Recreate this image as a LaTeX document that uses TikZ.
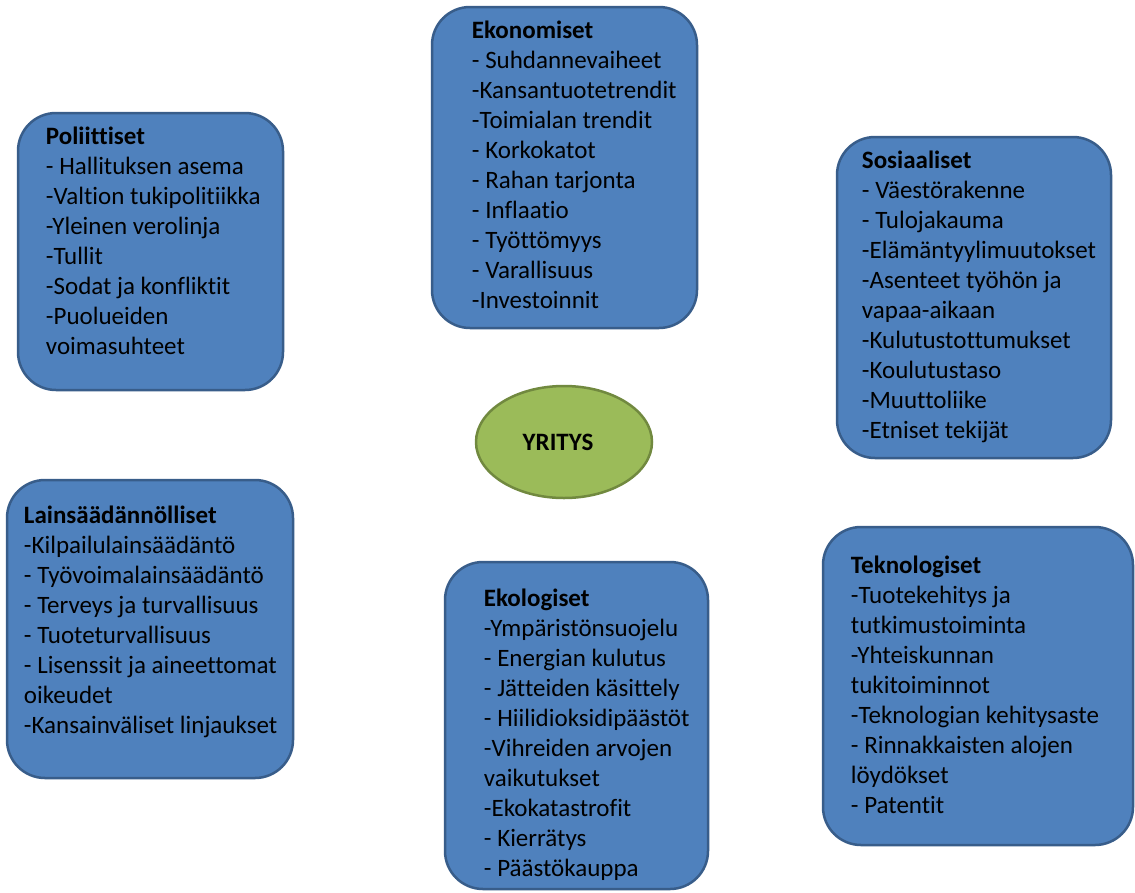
\documentclass[tikz,border=0pt]{standalone}
\usepackage{fontspec}
\setmainfont{Carlito}[Ligatures=NoCommon]
\usetikzlibrary{positioning,shapes.geometric}
\definecolor{laatikko}{HTML}{4F81BD}
\definecolor{laatikkoreuna}{HTML}{385D8A}
\definecolor{vihrea}{HTML}{9BBB59}
\definecolor{vihreareuna}{HTML}{71893F}
\tikzset{
  panel/.style={draw=laatikkoreuna, line width=2.5pt, fill=laatikko, rounded corners=38pt, inner sep=0pt},
  lista/.style={align=left, inner sep=0pt, font=\fontsize{25}{30}\selectfont},
  yritys/.style={ellipse, draw=vihreareuna, line width=2.5pt, fill=vihrea, minimum width=176pt, minimum height=112pt, font=\fontsize{25}{30}\selectfont\bfseries}
}
\begin{document}
\begin{tikzpicture}[x=1pt,y=-1pt]
  \fill[white] (0,0) rectangle (1135,892);
  \useasboundingbox (0,0) rectangle (1135,892);

  % laatikot
  \node[panel, minimum width=265pt, minimum height=277pt] (pol) at (150.5,251.5) {};
  \node[panel, minimum width=265pt, minimum height=321pt] (eko) at (564.5,167.5) {};
  \node[panel, minimum width=274pt, minimum height=321pt] (sos) at (974,297.5) {};
  \node[panel, minimum width=286pt, minimum height=298pt] (lain) at (150,629) {};
  \node[panel, minimum width=263pt, minimum height=327pt] (ekol) at (576.5,725.5) {};
  \node[panel, minimum width=310pt, minimum height=318pt] (tek) at (978,686) {};

  \node[yritys] (yri) at (564,442) {\hspace*{-12pt}YRITYS};

  % tekstit
  \node[lista, below right=15pt and 29pt of pol.north west] (polt) {\textbf{Poliittiset}\\
    - Hallituksen asema\\-Valtion tukipolitiikka\\-Yleinen verolinja\\-Tullit\\
    -Sodat ja konfliktit\\-Puolueiden\\voimasuhteet};
  \node[lista, below right=15pt and 41pt of eko.north west] (ekot) {\textbf{Ekonomiset}\\
    - Suhdannevaiheet\\-Kansantuotetrendit\\-Toimialan trendit\\- Korkokatot\\
    - Rahan tarjonta\\- Inflaatio\\- Työttömyys\\- Varallisuus\\-Investoinnit};
  \node[lista, below right=15pt and 26pt of sos.north west] (sost) {\textbf{Sosiaaliset}\\
    - Väestörakenne\\- Tulojakauma\\-Elämäntyylimuutokset\\-Asenteet työhön ja\\
    vapaa-aikaan\\-Kulutustottumukset\\-Koulutustaso\\-Muuttoliike\\-Etniset tekijät};
  \node[lista, below right=27pt and 18pt of lain.north west] (laint) {\textbf{Lainsäädännölliset}\\
    -Kilpailulainsäädäntö\\- Työvoimalainsäädäntö\\- Terveys ja turvallisuus\\
    - Tuoteturvallisuus\\- Lisenssit ja aineettomat\\oikeudet\\-Kansainväliset linjaukset};
  \node[lista, below right=28pt and 40pt of ekol.north west] (ekolt) {\textbf{Ekologiset}\\
    -Ympäristönsuojelu\\- Energian kulutus\\- Jätteiden käsittely\\- Hiilidioksidipäästöt\\
    -Vihreiden arvojen\\vaikutukset\\-Ekokatastrofit\\- Kierrätys\\- Päästökauppa};
  \node[lista, below right=30pt and 29pt of tek.north west] (tekt) {\textbf{Teknologiset}\\
    -Tuotekehitys ja\\tutkimustoiminta\\-Yhteiskunnan\\tukitoiminnot\\
    -Teknologian kehitysaste\\- Rinnakkaisten alojen\\löydökset\\- Patentit};
\end{tikzpicture}
\end{document}
